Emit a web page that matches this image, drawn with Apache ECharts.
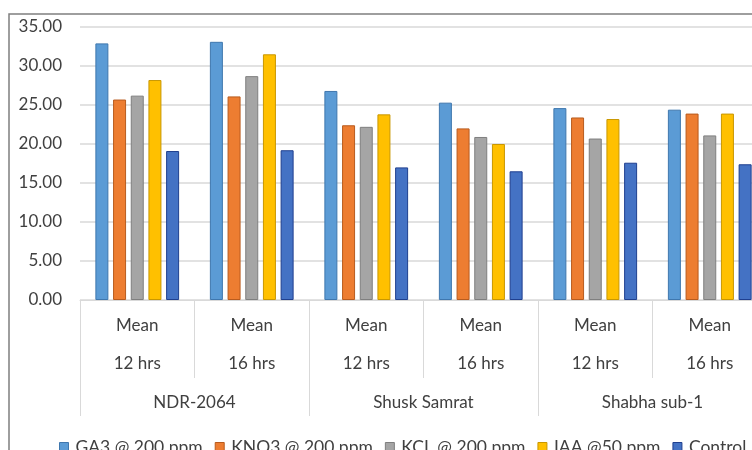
<!DOCTYPE html>
<html>
<head>
<meta charset="utf-8">
<script src="https://cdn.jsdelivr.net/npm/echarts@6/dist/echarts.min.js"></script>
<style>
  html, body { margin: 0; padding: 0; background: #fff; }
  #chart { width: 752px; height: 450px; }
</style>
</head>
<body>
<div id="chart"></div>
<script>
// Sub-categories (bottom label rows) and their parent groups
const periodLabels = ['12 hrs', '16 hrs', '12 hrs', '16 hrs', '12 hrs', '16 hrs'];
const statLabel = 'Mean';
const varieties = ['NDR-2064', 'Shusk Samrat', 'Shabha sub-1'];

// Treatment means per sub-category
const seriesNames = ['GA3 @ 200 ppm', 'KNO3 @ 200 ppm', 'KCL @ 200 ppm', 'IAA @50 ppm', 'Control'];
const ga3 = [32.9, 33.1, 26.8, 25.3, 24.6, 24.4];
const kno3 = [25.7, 26.1, 22.4, 22.0, 23.4, 23.9];
const kcl = [26.2, 28.7, 22.2, 20.9, 20.7, 21.1];
const iaa = [28.2, 31.5, 23.8, 20.0, 23.2, 23.9];
const control = [19.1, 19.2, 17.0, 16.5, 17.6, 17.4];

const yTicks = { min: 0, max: 35, interval: 5 };

const fills = ['#5B9BD5', '#ED7D31', '#A5A5A5', '#FFC000', '#4472C4'];
const edges = ['#3F77AE', '#B85B1E', '#7F7F7F', '#C99700', '#1F3F8F'];
const values = [ga3, kno3, kcl, iaa, control];

const font = 'Lato, "Open Sans", sans-serif';
const textColor = '#404040';
const fs = 17;

const chart = echarts.init(document.getElementById('chart'), null, { renderer: 'canvas' });

const series = seriesNames.map((name, i) => ({
  name: name,
  type: 'bar',
  xAxisIndex: 0,
  data: values[i],
  barWidth: 13,
  barGap: '36%',
  itemStyle: { color: fills[i], borderColor: edges[i], borderWidth: 1 },
  emphasis: { disabled: true }
}));

chart.setOption({
  animation: false,
  backgroundColor: '#fff',
  textStyle: { fontFamily: font },
  graphic: [{
    type: 'rect',
    shape: { x: 9, y: 14, width: 800, height: 500 },
    style: { fill: 'none', stroke: '#7F7F7F', lineWidth: 1.5 },
    silent: true,
    z: -1
  }],
  // the last sub-category runs past the right edge of the canvas
  grid: { left: 80, width: 687, top: 27, height: 273, outerBoundsMode: 'none', containLabel: false },
  legend: {
    data: seriesNames.map((n, i) => ({ name: n, itemStyle: { color: fills[i], borderColor: edges[i], borderWidth: 1 } })),
    left: 54,
    top: 433,
    icon: 'rect',
    itemWidth: 9,
    itemHeight: 9,
    itemGap: 12,
    textStyle: { fontFamily: font, fontSize: 17.5, color: textColor, padding: [0, 0, 0, 2] }
  },
  xAxis: [
    {
      type: 'category',
      position: 'bottom',
      data: periodLabels,
      axisLine: { show: true, lineStyle: { color: '#D9D9D9', width: 1 } },
      axisTick: { show: true, length: 78, lineStyle: { color: '#D9D9D9', width: 1 } },
      axisLabel: {
        margin: 7,
        interval: 0,
        formatter: (v) => '{a|' + statLabel + '}\n{a|' + v + '}',
        rich: {
          a: { fontFamily: font, fontSize: fs, color: textColor, lineHeight: 38 }
        }
      }
    },
    {
      type: 'category',
      position: 'bottom',
      data: varieties,
      axisLine: { show: false },
      axisTick: { show: true, length: 116, lineStyle: { color: '#D9D9D9', width: 1 } },
      axisLabel: { margin: 94, interval: 0, fontFamily: font, fontSize: fs, color: textColor },
      splitLine: { show: false }
    }
  ],
  yAxis: {
    type: 'value',
    min: yTicks.min,
    max: yTicks.max,
    interval: yTicks.interval,
    axisLine: { show: false },
    axisTick: { show: false },
    axisLabel: { margin: 18, fontFamily: font, fontSize: fs, color: textColor, formatter: (v) => v.toFixed(2) },
    splitLine: { lineStyle: { color: '#D9D9D9', width: 1.5 } }
  },
  series: series
});
</script>
</body>
</html>
